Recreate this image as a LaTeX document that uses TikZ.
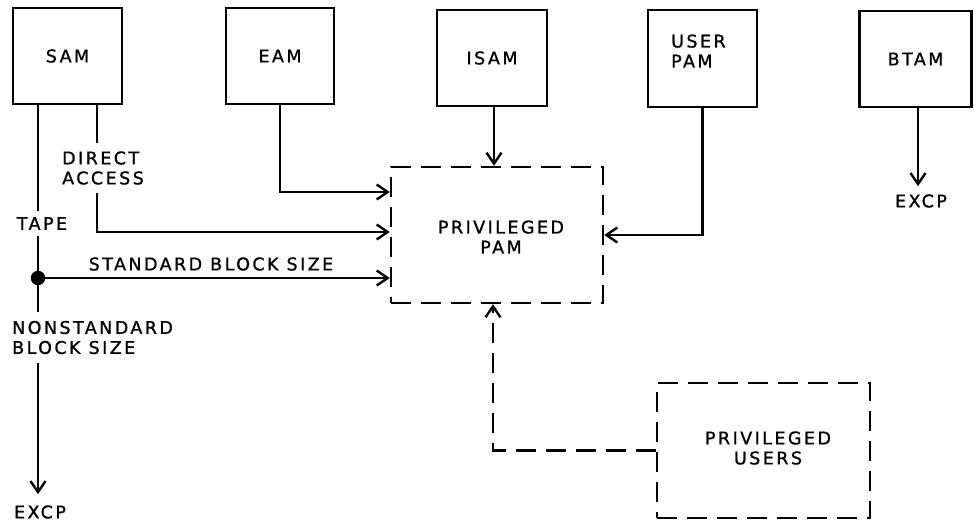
\documentclass[tikz,border=0pt]{standalone}
\usepackage{fontspec}
\setmainfont{DejaVu Sans}[LetterSpace=14, FakeBold=1]
\usetikzlibrary{arrows.meta}

\begin{document}
\begin{tikzpicture}[x=1pt,y=-1pt,
  txt/.style={font=\fontsize{17.5}{20}\selectfont, align=center, inner sep=0pt},
  modbox/.style={draw, line width=2.8pt, inner sep=0pt, txt},
  dashbox/.style={draw, line width=2.4pt, dash pattern=on 20pt off 10pt, inner sep=0pt},
  flow/.style={line width=2.4pt, -{Straight Barb[length=11pt,width=15pt,line width=2.4pt]}},
  gaplbl/.style={txt, fill=white, inner ysep=8pt, inner xsep=2pt, align=left}]
\useasboundingbox (0,0) rectangle (974,521);

% access method boxes
\node[modbox, minimum width=109pt, minimum height=96pt] (sam) at (67.5,56) {SAM};
\node[modbox, minimum width=108pt, minimum height=96pt] (eam) at (280,56) {EAM};
\node[modbox, minimum width=110pt, minimum height=96pt] (isam) at (492,58) {ISAM};
\node[modbox, minimum width=109pt, minimum height=97pt] (upam) at (702.5,58.5) {};
\node[txt, align=left, anchor=west] (upamtxt) at (671,51) {USER\\PAM};
\node[modbox, minimum width=112pt, minimum height=96pt] (btam) at (915.5,59) {BTAM};

% privileged boxes
\node[dashbox, minimum width=212pt, minimum height=136pt] (pam) at (497,235) {};
\node[txt] (pamtxt) at (501,237) {PRIVILEGED\\PAM};
\node[dashbox, minimum width=213pt, minimum height=135pt] (users) at (763.5,450.5) {};
\node[txt] (userstxt) at (768,448) {PRIVILEGED\\USERS};

% branch point
\node[circle, fill=black, minimum size=14.5pt, inner sep=0pt] (dot) at (38,278) {};

% terminal labels
\node[txt, inner ysep=11pt] (excp1) at (40,512) {EXCP};
\node[txt, inner ysep=8pt] (excp2) at (921,201) {EXCP};

% connectors
\draw[flow] ([xshift=-29.5pt]sam.south) -- (dot.center) -- (dot.center |- excp1.north);
\draw[flow] ([xshift=29.5pt]sam.south) |- ([yshift=3pt]pam.west);
\draw[flow] (eam.south) |- ([yshift=43pt]pam.west);
\draw[flow] (dot.center) -- (dot.center -| pam.west);
\draw[flow] ([xshift=2pt]isam.south) -- ([xshift=-3pt]pam.north);
\draw[flow] (upam.south) |- (pam.east);
\draw[flow] ([xshift=2.5pt]btam.south) -- ([xshift=2.5pt]btam.south |- excp2.north);
\draw[flow, dash pattern=on 20pt off 10pt] (users.west) -| ([xshift=-4pt]pam.south);

% labels on the lines
\node[gaplbl, anchor=west] (direct) at (60,168) {DIRECT\\ACCESS};
\node[gaplbl, inner ysep=6pt] (tape) at (42,223.5) {TAPE};
\node[gaplbl, anchor=west, inner ysep=9pt] (nonstd) at (10,337.5) {NONSTANDARD\\BLOCK SIZE};
\node[txt] (stdlbl) at (211,264) {STANDARD BLOCK SIZE};
\end{tikzpicture}
\end{document}
